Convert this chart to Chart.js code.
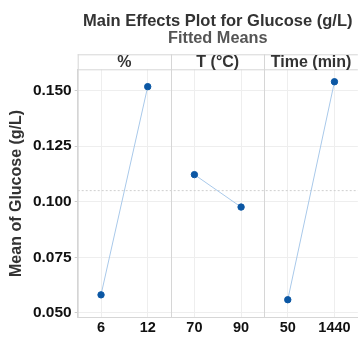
<!DOCTYPE html>
<html>
<head>
<meta charset="utf-8">
<script src="https://cdn.jsdelivr.net/npm/chart.js@4/dist/chart.umd.min.js"></script>
<style>
    html, body { margin: 0; padding: 0; background: #fff; overflow: hidden; }
    #wrap { width: 362px; height: 338px; }
</style>
</head>
<body>
<div id="wrap"><canvas id="plot" width="362" height="338"></canvas></div>
<script>
// data gelezen uit het plaatje
const factors = ['%', 'T (°C)', 'Time (min)'];
const pctLevels = ['6', '12'];
const tempLevels = ['70', '90'];
const timeLevels = ['50', '1440'];
const pctMeans = [0.0581, 0.1518];
const tempMeans = [0.1122, 0.0976];
const timeMeans = [0.0559, 0.1540];
const grandMean = 0.105;
const yTicks = [0.050, 0.075, 0.100, 0.125, 0.150];

const Plot = (() => {
    let _configMap = {
        font: "'Liberation Sans', Arial, sans-serif",
        pointColor: '#0b57a4',
        lineColor: '#a9c9ea',
        gridColor: '#eeeeee',
        borderColor: '#d6d6d6'
    };

    const _toPoints = function (levels, means) {
        return levels.map((l, i) => ({ x: l, y: means[i] }));
    };

    const _makeDataset = function (name, levels, means) {
        return {
            label: name,
            data: _toPoints(levels, means),
            borderColor: _configMap.lineColor,
            borderWidth: 1,
            pointBackgroundColor: _configMap.pointColor,
            pointBorderColor: _configMap.pointColor,
            pointRadius: 3.2,
            pointHoverRadius: 3.2
        };
    };

    // strip met factornamen, scheidingslijnen tussen panelen en de gemiddelde lijn
    const _panelPlugin = {
        id: 'panels',
        beforeDatasetsDraw(chart) {
            const ctx = chart.ctx;
            const area = chart.chartArea;
            const y = chart.scales.y;

            // gemiddelde (stippellijn)
            const my = y.getPixelForValue(grandMean);
            ctx.save();
            ctx.strokeStyle = '#cfcfcf';
            ctx.lineWidth = 1;
            ctx.setLineDash([2, 2]);
            ctx.beginPath();
            ctx.moveTo(area.left, my);
            ctx.lineTo(area.right, my);
            ctx.stroke();
            ctx.restore();
        },
        afterDraw(chart) {
            const ctx = chart.ctx;
            const area = chart.chartArea;
            const x = chart.scales.x;
            const stripTop = area.top - 15;

            ctx.save();
            ctx.strokeStyle = _configMap.borderColor;
            ctx.lineWidth = 1;
            ctx.beginPath();
            ctx.moveTo(area.left, stripTop + 0.5);
            ctx.lineTo(area.right, stripTop + 0.5);
            ctx.moveTo(area.left, area.top + 0.5);
            ctx.lineTo(area.right, area.top + 0.5);
            ctx.moveTo(area.left + 0.5, stripTop);
            ctx.lineTo(area.left + 0.5, area.bottom);
            for (let i = 1; i < factors.length; i++) {
                const dx = Math.round((x.getPixelForValue(2 * i - 1) + x.getPixelForValue(2 * i)) / 2) + 0.5;
                ctx.moveTo(dx, stripTop);
                ctx.lineTo(dx, area.bottom);
            }
            ctx.stroke();

            ctx.fillStyle = '#333';
            ctx.font = "bold 16px " + _configMap.font;
            ctx.textAlign = 'center';
            ctx.textBaseline = 'middle';
            factors.forEach((f, i) => {
                const cx = (x.getPixelForValue(2 * i) + x.getPixelForValue(2 * i + 1)) / 2;
                ctx.fillText(f, cx, stripTop + 8);
            });
            ctx.restore();
        }
    };

    const init = function (canvas) {
        const f = _configMap.font;
        return new Chart(canvas, {
            type: 'line',
            data: {
                labels: [...pctLevels, ...tempLevels, ...timeLevels],
                datasets: [
                    _makeDataset(factors[0], pctLevels, pctMeans),
                    _makeDataset(factors[1], tempLevels, tempMeans),
                    _makeDataset(factors[2], timeLevels, timeMeans)
                ]
            },
            options: {
                responsive: false,
                animation: false,
                layout: { padding: { left: 5.7, right: 1, top: 0, bottom: 0 } },
                plugins: {
                    legend: { display: false },
                    tooltip: { enabled: false },
                    title: {
                        display: true,
                        fullSize: false,
                        text: 'Main Effects Plot for Glucose (g/L)',
                        color: '#333',
                        font: { family: f, size: 16.5, weight: 'bold', lineHeight: 1 },
                        padding: { top: 13, bottom: 0 }
                    },
                    subtitle: {
                        display: true,
                        fullSize: false,
                        text: 'Fitted Means',
                        color: '#555',
                        font: { family: f, size: 16.3, weight: 'bold', lineHeight: 1 },
                        padding: { top: 1, bottom: 22.5 }
                    }
                },
                scales: {
                    x: {
                        type: 'category',
                        offset: true,
                        grid: { color: _configMap.gridColor, drawTicks: false, offset: false },
                        border: { color: _configMap.borderColor },
                        ticks: {
                            color: '#111',
                            padding: 3,
                            font: { family: f, size: 14.5, weight: 'bold', lineHeight: 1 }
                        }
                    },
                    y: {
                        min: 0.0479,
                        max: 0.1596,
                        afterBuildTicks: (scale) => {
                            scale.ticks = yTicks.map(v => ({ value: v }));
                        },
                        grid: { color: _configMap.gridColor, tickColor: '#cccccc', tickLength: 3 },
                        border: { color: _configMap.borderColor },
                        ticks: {
                            color: '#111',
                            padding: 3,
                            font: { family: f, size: 15.5, weight: 'bold' },
                            callback: (v) => Number(v).toFixed(3)
                        },
                        title: {
                            display: true,
                            text: 'Mean of Glucose (g/L)',
                            color: '#333',
                            font: { family: f, size: 16, weight: 'bold', lineHeight: 1.2 },
                            padding: { top: 1, bottom: 4 }
                        }
                    }
                }
            },
            plugins: [_panelPlugin]
        });
    };

    return {
        init
    };
})();

Plot.init(document.getElementById('plot'));
</script>
</body>
</html>
